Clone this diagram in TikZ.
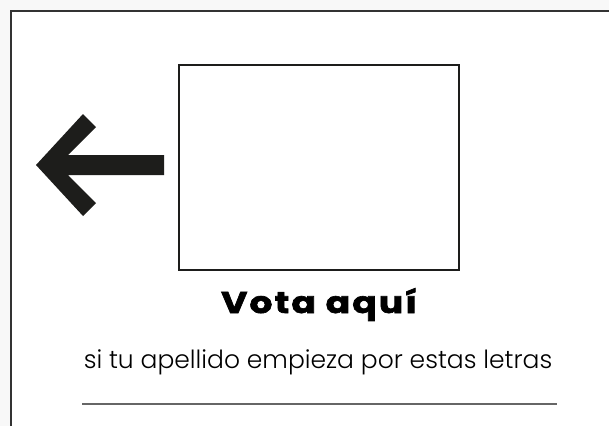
\documentclass[tikz,border=0pt]{standalone}
\usepackage{fontspec}
\setmainfont{Poppins}
\newfontfamily\popbold{Poppins}[UprightFont=* Bold,LetterSpace=6,FakeBold=2]
\newfontfamily\poplight{Poppins}[UprightFont=* Light]
\definecolor{ink}{HTML}{1D1D1B}
\definecolor{pagebg}{HTML}{F8F8F8}
\begin{document}
\begin{tikzpicture}[x=1pt,y=-1pt,
  frame/.style={draw=black!80,line width=1.5pt},
  box/.style={draw=ink,line width=2pt},
  rule/.style={draw=black!60,line width=1.3pt}]
\useasboundingbox (0,0) rectangle (609,426);
\fill[pagebg] (0,0) rectangle (609,426);
\fill[white] (11,11) rectangle (609,426);
\draw[frame] (11,426) -- (11,11) -- (609,11);
\node[box,minimum width=280pt,minimum height=205pt,inner sep=0pt,anchor=north west] (card) at (177.5,63.5) {};
\fill[ink] (36,165) -- (83,114) -- (96,127) -- (68,155) -- (164,155) -- (164,175) -- (68,175) -- (96,203) -- (83,216) -- cycle;
\node[inner sep=0pt,text=black,anchor=base,xscale=1.2] (title) at (319,313) {\popbold\fontsize{30}{34}\selectfont Vota aquí};
\node[inner sep=0pt,text=black,anchor=base] (sub) at (318,368) {\poplight\fontsize{25}{30}\selectfont si tu apellido empieza por estas letras};
\coordinate (l1) at (82,404);
\coordinate (l2) at (557,404);
\draw[rule] (l1) -- (l2);
\end{tikzpicture}
\end{document}
